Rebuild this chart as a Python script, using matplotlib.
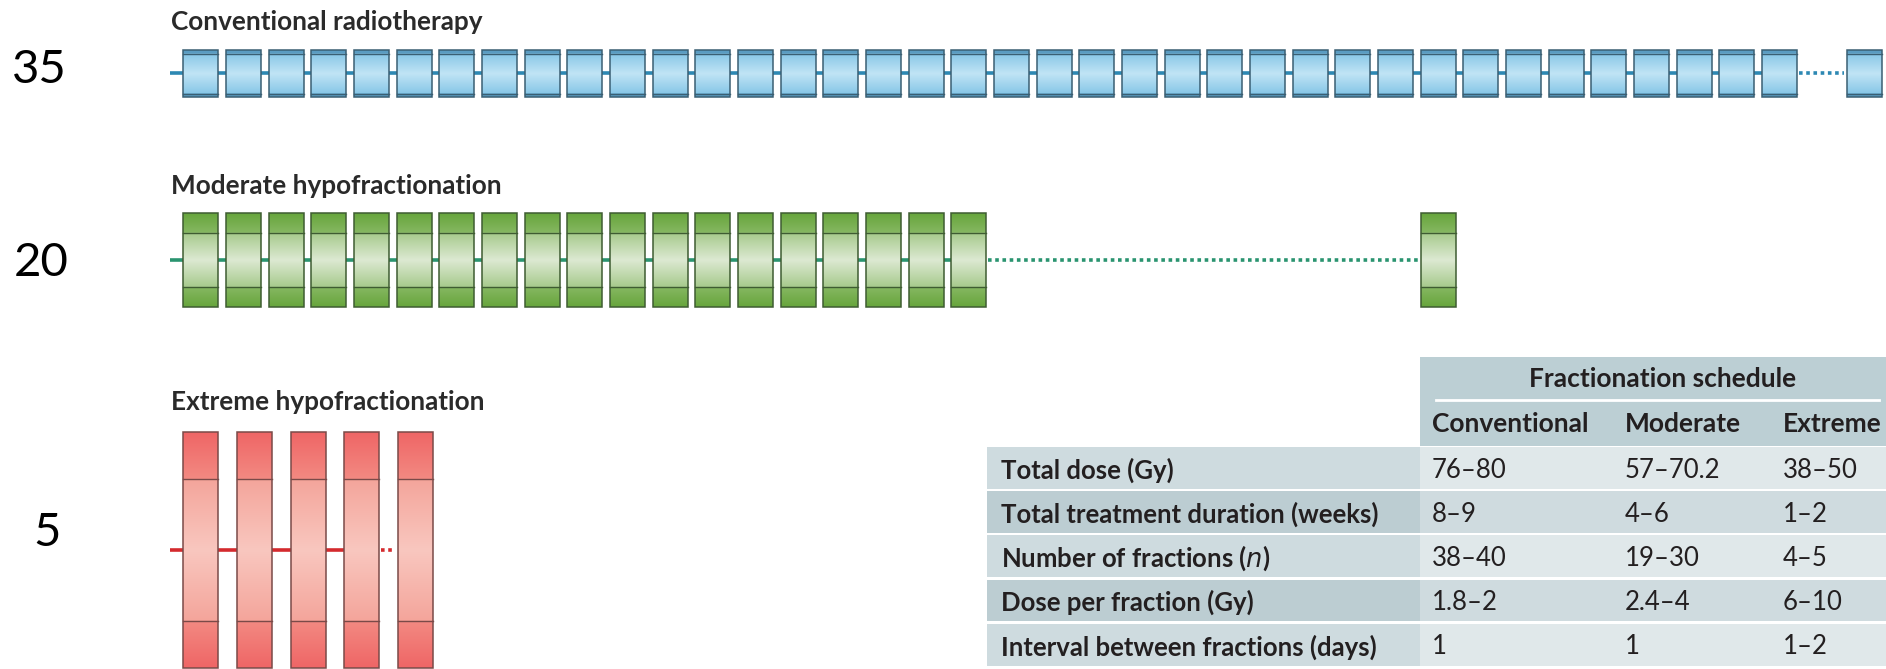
import numpy as np
import matplotlib
matplotlib.use("Agg")
import matplotlib.pyplot as plt
from matplotlib.patches import Rectangle
from matplotlib.colors import to_rgb

W, H = 1886, 669

# ---------- data ----------
schedules    = ["Conventional radiotherapy", "Moderate hypofractionation", "Extreme hypofractionation"]
n_fractions  = ["35", "20", "5"]
boxes_before = [38, 19, 4]        # boxes drawn before the dotted break
last_slot    = [39, 29, 4]        # slot of the single box after the break

row_labels = ["Total dose (Gy)", "Total treatment duration (weeks)", "Number of fractions ($\\mathit{n}$)",
              "Dose per fraction (Gy)", "Interval between fractions (days)"]
col_labels = ["Conventional", "Moderate", "Extreme"]
conventional = ["76–80", "8–9", "38–40", "1.8–2", "1"]
moderate     = ["57–70.2", "4–6", "19–30", "2.4–4", "1"]
extreme      = ["38–50", "1–2", "4–5", "6–10", "1–2"]

# ---------- layout / style (pixel coords) ----------
X0, BOX_W = 183.3, 35
rows = [  # top, bottom, band, pitch, line y, line colour, edge, stops
    dict(top=50, bot=97, band=3.5, pitch=42.67, ly=72.5, lc="#2d88b3", ec="#3a5f73",
         stops=[(0, "#5a9cc2"), (0.074, "#5a9cc2"), (0.075, "#88c7e7"), (0.5, "#c0e4f5"),
                (0.925, "#88c7e7"), (0.926, "#5a9cc2"), (1, "#5a9cc2")]),
    dict(top=213, bot=307, band=20, pitch=42.67, ly=260, lc="#2a9470", ec="#3e5c32",
         stops=[(0, "#67a53c"), (0.21, "#86b862"), (0.2101, "#a6ca8c"), (0.5, "#dde9d2"),
                (0.7899, "#a6ca8c"), (0.79, "#86b862"), (1, "#67a53c")]),
    dict(top=432, bot=668, band=47, pitch=53.7, ly=550, lc="#d42a2e", ec="#7a4a48",
         stops=[(0, "#ef6666"), (0.2, "#f38a82"), (0.2001, "#f4a59b"), (0.5, "#f9c7bf"),
                (0.7999, "#f4a59b"), (0.8, "#f38a82"), (1, "#ef6666")]),
]
title_y = [22, 186, 402]
num_xy = [(39, 70), (41, 263), (47, 533)]


def gradient(stops, n=200):
    pos = np.array([s[0] for s in stops])
    cols = np.array([to_rgb(s[1]) for s in stops])
    t = np.linspace(0, 1, n)
    img = np.stack([np.interp(t, pos, cols[:, k]) for k in range(3)], axis=1)
    return img[:, None, :]


plt.rcParams["font.family"] = ["Lato", "DejaVu Sans"]
fig = plt.figure(figsize=(W / 100, H / 100), dpi=100)
ax = fig.add_axes([0, 0, 1, 1])

for i, r in enumerate(rows):
    img = gradient(r["stops"])
    slots = list(range(boxes_before[i])) + [last_slot[i]]
    xs = [X0 + s * r["pitch"] for s in slots]
    # connecting line (solid up to break, dotted across it)
    end_solid = xs[boxes_before[i] - 1] + BOX_W
    ax.plot([170, end_solid], [r["ly"], r["ly"]], color=r["lc"], lw=2.6, zorder=1,
            solid_capstyle="butt")
    ax.plot([end_solid + 2, xs[-1] - 3], [r["ly"], r["ly"]], color=r["lc"], lw=2.6,
            ls=(0, (1, 1)), zorder=1)
    for x in xs:
        ax.imshow(img, extent=(x, x + BOX_W, r["bot"], r["top"]), aspect="auto",
                  interpolation="bilinear", zorder=2)
        ax.add_patch(Rectangle((x, r["top"]), BOX_W, r["bot"] - r["top"], fill=False,
                               ec=r["ec"], lw=1.1, zorder=3))
        for yb in (r["top"] + r["band"], r["bot"] - r["band"]):
            ax.plot([x, x + BOX_W], [yb, yb], color=r["ec"], lw=1.0, zorder=3)
    ax.text(171, title_y[i], schedules[i], fontsize=18.8, fontweight="bold",
            color="#2a2a2a", ha="left", va="center")
    ax.text(num_xy[i][0], num_xy[i][1], n_fractions[i], fontsize=34, color="black",
            ha="center", va="center")

# ---------- table ----------
TX0, TX1, TX2 = 987, 1420, 1886
ax.add_patch(Rectangle((TX1, 357), TX2 - TX1, 89, color="#bccfd4", lw=0, zorder=1))
ax.plot([1436, 1879], [400, 400], color="white", lw=2, zorder=2)
ax.text(1663, 379, "Fractionation schedule", fontsize=19, fontweight="bold",
        color="#231f20", ha="center", va="center")
col_x = [1432, 1625, 1783]
for cx, lab in zip(col_x, col_labels):
    ax.text(cx, 424, lab, fontsize=19, fontweight="bold", color="#231f20",
            ha="left", va="center")

row_top, row_h = 447, 44.2
lab_bg = ["#cedbdf", "#bccdd2"]
val_bg = ["#e0e8ea", "#cfdbdf"]
for j, lab in enumerate(row_labels):
    y = row_top + j * row_h
    ax.add_patch(Rectangle((TX0, y), TX1 - TX0, row_h - 2.5, color=lab_bg[j % 2], lw=0, zorder=1))
    ax.add_patch(Rectangle((TX1, y), TX2 - TX1, row_h - 2.5, color=val_bg[j % 2], lw=0, zorder=1))
    yc = y + row_h / 2 + 1
    ax.text(1001, yc, lab, fontsize=18.5, fontweight="bold", color="#231f20",
            ha="left", va="center")
    for cx, vals in zip(col_x, (conventional, moderate, extreme)):
        ax.text(cx, yc, vals[j], fontsize=18.5, color="#231f20", ha="left", va="center")

ax.set_xlim(0, W)
ax.set_ylim(H, 0)
ax.axis("off")
fig.savefig("out.png", dpi=100)
